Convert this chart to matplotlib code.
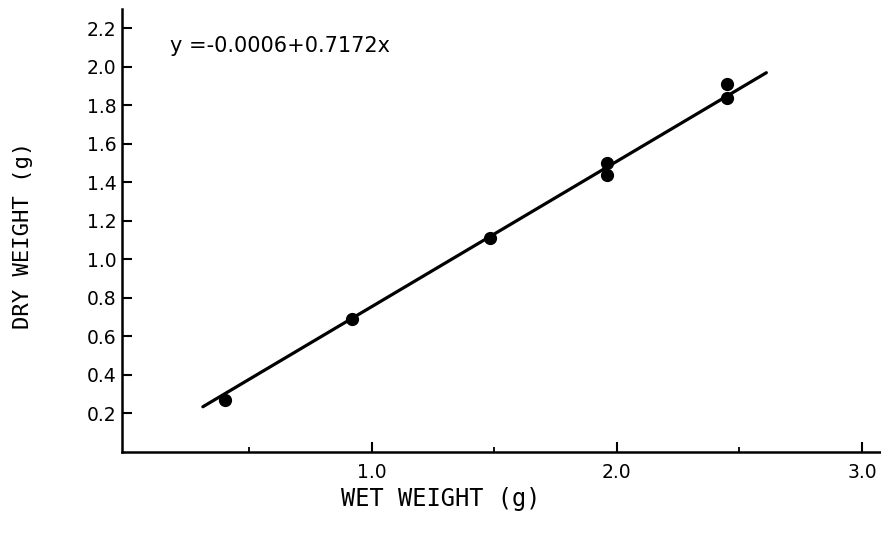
import numpy as np
import matplotlib
matplotlib.use('Agg')
import matplotlib.pyplot as plt
from matplotlib.ticker import FixedLocator

# 읽은 데이터 (wet weight -> dry weight)
wet = [0.40, 0.92, 1.48, 1.96, 1.96, 2.45, 2.45]
dry = [0.27, 0.69, 1.11, 1.50, 1.44, 1.91, 1.84]

# 회귀선 양 끝
fit_x = [0.31, 2.61]
fit_y = [0.235, 1.97]
equation = 'y =-0.0006+0.7172x'

x_ticks = [1.0, 2.0, 3.0]
x_minor = [0.5, 1.5, 2.5]
y_ticks = [0.2, 0.4, 0.6, 0.8, 1.0, 1.2, 1.4, 1.6, 1.8, 2.0, 2.2]

fig = plt.figure(figsize=(8.81, 5.39), dpi=100)
ax = fig.add_axes([0.1385, 0.1614, 0.8615, 0.8216])

ax.plot(fit_x, fit_y, color='black', lw=2.3, solid_capstyle='round')
ax.plot(wet, dry, 'o', color='black', ms=8.5)

ax.set_xlim(-0.02, 3.078)
ax.set_ylim(0, 2.30)

for s in ['top', 'right']:
    ax.spines[s].set_visible(False)
for s in ['left', 'bottom']:
    ax.spines[s].set_linewidth(1.8)

ax.set_xticks(x_ticks)
ax.set_xticklabels([f'{v:.1f}' for v in x_ticks])
ax.xaxis.set_minor_locator(FixedLocator(x_minor))
ax.set_yticks(y_ticks)
ax.set_yticklabels([f'{v:.1f}' for v in y_ticks])

ax.tick_params(axis='both', which='major', direction='in', length=7, width=1.5,
               labelsize=13.5, pad=4)
ax.tick_params(axis='x', which='major', pad=8)
ax.tick_params(axis='x', which='minor', direction='in', length=3.5, width=1.3)

ax.text(0.175, 2.11, equation, fontsize=15, va='center', ha='left')

ax.set_xlabel('WET WEIGHT (g)', family='DejaVu Sans Mono', fontsize=17)
ax.set_ylabel('DRY WEIGHT (g)', family='DejaVu Sans Mono', fontsize=16)
ax.xaxis.set_label_coords(0.42, -0.08)
ax.yaxis.set_label_coords(-0.117, 0.49)

plt.savefig('out.png', dpi=100)
